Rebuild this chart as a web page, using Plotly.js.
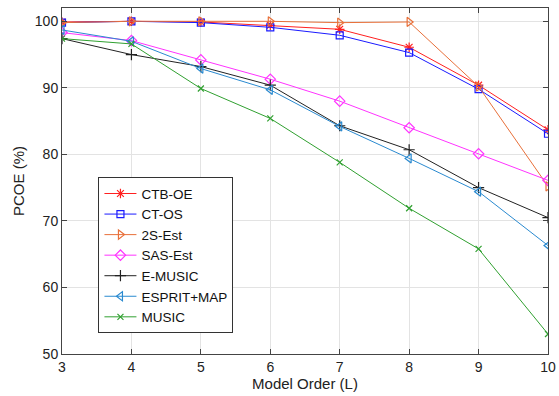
<!DOCTYPE html>
<html><head><meta charset="utf-8">
<script src="https://cdn.plot.ly/plotly-3.0.1.min.js"></script>
<style>body{margin:0;padding:0;background:#fff}#chart{width:559px;height:396px}</style>
</head><body><div id="chart"></div>
<script>
const modelOrder = [3, 4, 5, 6, 7, 8, 9, 10];
const ctbOE   = [99.9, 100.0, 99.9, 99.4, 98.8, 96.1, 90.4, 83.7];
const ctOS    = [99.8, 100.0, 99.8, 99.1, 97.9, 95.3, 89.8, 83.1];
const s2Est   = [99.8, 100.0, 100.0, 100.0, 99.8, 99.9, 90.2, 75.2];
const sasEst  = [98.3, 97.1, 94.2, 91.3, 88.0, 84.0, 80.1, 76.1];
const eMusic  = [97.4, 95.0, 93.2, 90.4, 84.3, 80.7, 75.0, 70.5];
const espritMap = [98.7, 97.0, 92.9, 89.7, 84.2, 79.4, 74.4, 66.3];
const music   = [97.4, 96.6, 89.9, 85.4, 78.8, 71.9, 65.8, 53.0];
const yTicks = [50, 60, 70, 80, 90, 100];

const series = [
  {name:'CTB-OE', y: ctbOE, color:'#ff2020', symbol:'asterisk-open', size:8},
  {name:'CT-OS', y: ctOS, color:'#1a1aff', symbol:'square-open', size:7},
  {name:'2S-Est', y: s2Est, color:'#e8703a', symbol:'triangle-right-open', size:8},
  {name:'SAS-Est', y: sasEst, color:'#ff33ff', symbol:'diamond-open', size:8},
  {name:'E-MUSIC', y: eMusic, color:'#222222', symbol:'cross-thin-open', size:8},
  {name:'ESPRIT+MAP', y: espritMap, color:'#2a8ad0', symbol:'triangle-left-open', size:8},
  {name:'MUSIC', y: music, color:'#30a030', symbol:'x-thin-open', size:6}
];
const traces = series.map(s => ({
  type:'scatter', mode:'lines+markers', x: modelOrder, y: s.y, name: s.name,
  line:{color:s.color, width:1},
  marker:{symbol:s.symbol, size:s.size, color:s.color, line:{color:s.color, width:1.2}}
}));

const axisCommon = {
  showline:true, linecolor:'#444', linewidth:1, mirror:'ticks',
  ticks:'inside', ticklen:5, tickcolor:'#444',
  showgrid:true, gridcolor:'#e3e3e3', gridwidth:1, zeroline:false,
  tickfont:{family:'Liberation Sans, Arial, sans-serif', size:14, color:'#222'}
};
const layout = {
  width:559, height:396,
  margin:{l:62, r:11, t:8, b:42},
  paper_bgcolor:'#fff', plot_bgcolor:'#fff',
  font:{family:'Liberation Sans, Arial, sans-serif', color:'#222'},
  xaxis: Object.assign({}, axisCommon, {range:[3,10], tickvals:modelOrder, title:{text:'Model Order (L)', font:{size:15}, standoff:4}}),
  yaxis: Object.assign({}, axisCommon, {range:[50,102], tickvals:yTicks, title:{text:'PCOE (%)', font:{size:15}, standoff:6}}),
  showlegend:true,
  legend:{x:0.075, y:0.06, xanchor:'left', yanchor:'bottom', bgcolor:'#fff', bordercolor:'#333', borderwidth:1,
          font:{size:13.5, family:'Liberation Sans, Arial, sans-serif', color:'#111'}, tracegroupgap:0, itemwidth:32}
};
Plotly.newPlot('chart', traces, layout, {displayModeBar:false, staticPlot:true});
</script></body></html>
